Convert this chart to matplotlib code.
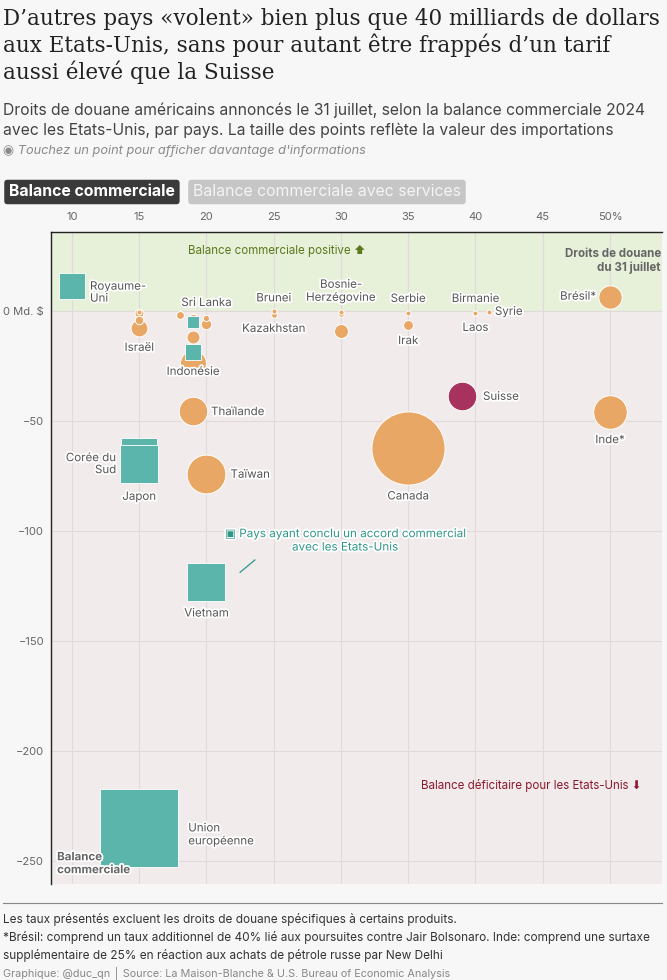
import numpy as np
import matplotlib
matplotlib.use("Agg")
from matplotlib import pyplot as plt
from matplotlib import patheffects as pe

plt.rcParams['font.family'] = ['Inter', 'DejaVu Sans']

# donnees (droits de douane %, balance commerciale Md $, importations Md $)
countries = ["Union européenne", "Canada", "Japon", "Vietnam", "Corée du Sud",
             "Taïwan", "Inde*", "Royaume-Uni", "Suisse", "Thaïlande",
             "Malaisie", "Brésil*", "Indonésie", "Israël", "Afrique du Sud",
             "Philippines", "Cambodge", "Bangladesh", "Irak", "Pakistan",
             "Nicaragua", "Sri Lanka", "Kazakhstan", "Serbie", "Laos",
             "Birmanie", "Algérie", "Bosnie-Herzégovine", "Nouvelle-Zélande",
             "Norvège", "Islande", "Brunei", "Syrie"]
tariffs = [15, 35, 15, 20, 15,
           20, 50, 10, 39, 19,
           19, 50, 19, 15, 30,
           19, 19, 20, 35, 19,
           18, 20, 25, 35, 40,
           40, 30, 30, 15,
           15, 15, 25, 41]
balance = [-235.0, -62.5, -69.5, -123.0, -66.0,
           -74.0, -46.0, 11.5, -38.6, -45.5,
           -23.5, 6.5, -18.6, -7.7, -9.0,
           -5.0, -11.8, -6.0, -6.4, -3.0,
           -1.8, -3.2, -1.8, -0.9, -0.9,
           -0.9, -1.6, -0.6, -0.8,
           -4.0, -0.6, -0.2, -0.4]
imports = [606, 413, 148, 137, 131,
           116, 87, 68, 63, 63,
           52, 42, 28, 22, 15,
           14, 13, 8.4, 7.4, 5.1,
           4.8, 3.0, 2.4, 1.1, 0.8,
           0.7, 2.5, 0.3, 6.0,
           5.5, 1.0, 0.2, 0.1]
deal = ["Union européenne", "Japon", "Vietnam", "Corée du Sud", "Royaume-Uni",
        "Indonésie", "Philippines"]

# etiquettes: (texte, dx px, dy px, alignement)
labels = {
    "Royaume-Uni": ("Royaume-\nUni", 18, -7, "left"),
    "Israël": ("Israël", 0, -20, "center"),
    "Sri Lanka": ("Sri Lanka", 0, 15, "center"),
    "Indonésie": ("Indonésie", 0, -20, "center"),
    "Thaïlande": ("Thaïlande", 18, -1, "left"),
    "Corée du Sud": ("Corée du\nSud", -23, -8, "right"),
    "Japon": ("Japon", 0, -33, "center"),
    "Taïwan": ("Taïwan", 24, -1, "left"),
    "Brunei": ("Brunei", 0, 13, "center"),
    "Kazakhstan": ("Kazakhstan", 0, -14, "center"),
    "Bosnie-Herzégovine": ("Bosnie-\nHerzégovine", 0, 21, "center"),
    "Serbie": ("Serbie", 0, 14, "center"),
    "Irak": ("Irak", 0, -16, "center"),
    "Birmanie": ("Birmanie", 0, 14, "center"),
    "Laos": ("Laos", 0, -15, "center"),
    "Syrie": ("Syrie", 6, 0, "left"),
    "Suisse": ("Suisse", 21, -1, "left"),
    "Brésil*": ("Brésil*", -14, 0, "right"),
    "Inde*": ("Inde*", 0, -28, "center"),
    "Canada": ("Canada", 0, -48, "center"),
    "Vietnam": ("Vietnam", 0, -32, "center"),
    "Union européenne": ("Union\neuropéenne", 49, -7, "left"),
}

col_circle = "#e8a765"
col_square = "#5bb5aa"
col_suisse = "#a8325e"

fig = plt.figure(figsize=(6.67, 9.8), dpi=100, facecolor="#f7f7f7")
ax = fig.add_axes([51 / 667, 1 - 884 / 980, 611 / 667, 652 / 980])
ax.set_facecolor("#f7f7f7")

ymin, ymax = -260.5, 35.9
xmin, xmax = 8.44, 53.87
ax.set_xlim(xmin, xmax)
ax.set_ylim(ymin, ymax)
ax.axhspan(0, ymax, color="#e7f0d9", zorder=0, lw=0)
ax.axhspan(ymin, 0, color="#f1ebeb", zorder=0, lw=0)

ax.set_xticks(np.arange(10, 51, 5))
ax.set_xticklabels([str(v) for v in range(10, 50, 5)] + ["50%"])
ax.set_yticks([0, -50, -100, -150, -200, -250])
ax.set_yticklabels(["0 Md. $", "−50", "−100", "−150", "−200", "−250"])
ax.xaxis.tick_top()
ax.tick_params(length=0, labelsize=8.0, colors="#666666", pad=7)
ax.tick_params(axis="y", pad=5)
ax.grid(True, color="#e2dada", lw=0.8, zorder=1)
ax.set_axisbelow(True)
for side in ["right", "bottom"]:
    ax.spines[side].set_visible(False)
for side in ["left", "top"]:
    ax.spines[side].set_color("#222222")
    ax.spines[side].set_linewidth(1)

# points: cercles du plus grand au plus petit, puis carres
pt = 0.72
circles = [i for i in np.argsort(imports)[::-1] if countries[i] not in deal]
squares = [i for i in np.argsort(imports) if countries[i] in deal]
for i in circles:
    name = countries[i]
    dia = max(3.6 * np.sqrt(imports[i]), 5) * pt
    c = col_suisse if name == "Suisse" else col_circle
    ax.scatter(tariffs[i], balance[i], s=dia ** 2, marker="o",
               color=c, edgecolor="white", linewidth=0.7, zorder=3)
for i in squares:
    side = 3.6 * np.sqrt(imports[i]) * pt * np.sqrt(np.pi) / 2
    ax.scatter(tariffs[i], balance[i], s=side ** 2, marker="s",
               color=col_square, edgecolor="white", linewidth=0.6, zorder=4)

halo = [pe.withStroke(linewidth=2.5, foreground="white")]
for name, (txt, dx, dy, ha) in labels.items():
    i = countries.index(name)
    ax.annotate(txt, (tariffs[i], balance[i]), xytext=(dx, dy),
                textcoords="offset pixels", ha=ha, va="center",
                fontsize=8.3, color="#555555", linespacing=1.0,
                path_effects=halo, zorder=5)

# annotations
ax.text(18.62, 27.5, "Balance commerciale positive ⬆", ha="left", va="center",
        fontsize=8.3, color="#5b7a1e", zorder=5)
ax.text(0.998, 0.975, "Droits de douane\ndu 31 juillet", transform=ax.transAxes,
        ha="right", va="top", fontsize=8.3, fontweight="bold",
        color="#666666", linespacing=1.1, zorder=5)
ax.text(0.01, 0.012, "Balance\ncommerciale", transform=ax.transAxes,
        ha="left", va="bottom", fontsize=8.3, fontweight="bold",
        color="#666666", linespacing=1.1, path_effects=halo, zorder=5)
ax.text(52.3, -215.5, "Balance déficitaire pour les Etats-Unis ⬇", ha="right",
        va="center", fontsize=8.3, color="#8a1a2e", zorder=5)
ax.text(30.3, -104.5, "▣ Pays ayant conclu un accord commercial\navec les Etats-Unis",
        ha="center", va="center", fontsize=8.4, color="#2f9688",
        linespacing=1.15, path_effects=halo, zorder=5)
iv = countries.index("Vietnam")
ax.plot([tariffs[iv] + 2.5, tariffs[iv] + 3.6], [balance[iv] + 4.2, balance[iv] + 9.8],
        color="#2f9688", lw=0.9, zorder=5)

# titres
fig.text(3 / 667, 1 - 8 / 980,
         "D’autres pays «volent» bien plus que 40 milliards de dollars\n"
         "aux Etats-Unis, sans pour autant être frappés d’un tarif\n"
         "aussi élevé que la Suisse",
         ha="left", va="top", fontsize=15.5, family="DejaVu Serif",
         color="#222222", linespacing=1.18)
fig.text(3 / 667, 1 - 102 / 980,
         "Droits de douane américains annoncés le 31 juillet, selon la balance commerciale 2024\n"
         "avec les Etats-Unis, par pays. La taille des points reflète la valeur des importations",
         ha="left", va="top", fontsize=11.3, color="#444444", linespacing=1.45)
fig.text(3 / 667, 1 - 151 / 980, "◉ Touchez un point pour afficher davantage d'informations",
         ha="left", va="center", fontsize=9.2, style="italic", color="#8a8a8a")

fig.text(9 / 667, 1 - 192 / 980, "Balance commerciale", ha="left", va="center",
         fontsize=11.4, fontweight="bold", color="white",
         bbox=dict(boxstyle="round,pad=0.3,rounding_size=0.2", fc="#3a3a3a", ec="none"))
fig.text(193 / 667, 1 - 192 / 980, "Balance commerciale avec services", ha="left",
         va="center", fontsize=11.4, color="#f4f4f4",
         bbox=dict(boxstyle="round,pad=0.3,rounding_size=0.2", fc="#c6c6c6", ec="none"))

# pied
fig.add_artist(plt.Line2D([3 / 667, 662 / 667], [1 - 903 / 980, 1 - 903 / 980],
                          color="#888888", lw=0.8))
fig.text(3 / 667, 1 - 913 / 980,
         "Les taux présentés excluent les droits de douane spécifiques à certains produits.\n"
         "*Brésil: comprend un taux additionnel de 40% lié aux poursuites contre Jair Bolsonaro. Inde: comprend une surtaxe\n"
         "supplémentaire de 25% en réaction aux achats de pétrole russe par New Delhi",
         ha="left", va="top", fontsize=8.5, color="#333333", linespacing=1.5)
fig.text(3 / 667, 1 - 973 / 980,
         "Graphique: @duc_qn │ Source: La Maison-Blanche & U.S. Bureau of Economic Analysis",
         ha="left", va="center", fontsize=7.8, color="#888888")

fig.savefig("out.png", dpi=100, facecolor=fig.get_facecolor())
